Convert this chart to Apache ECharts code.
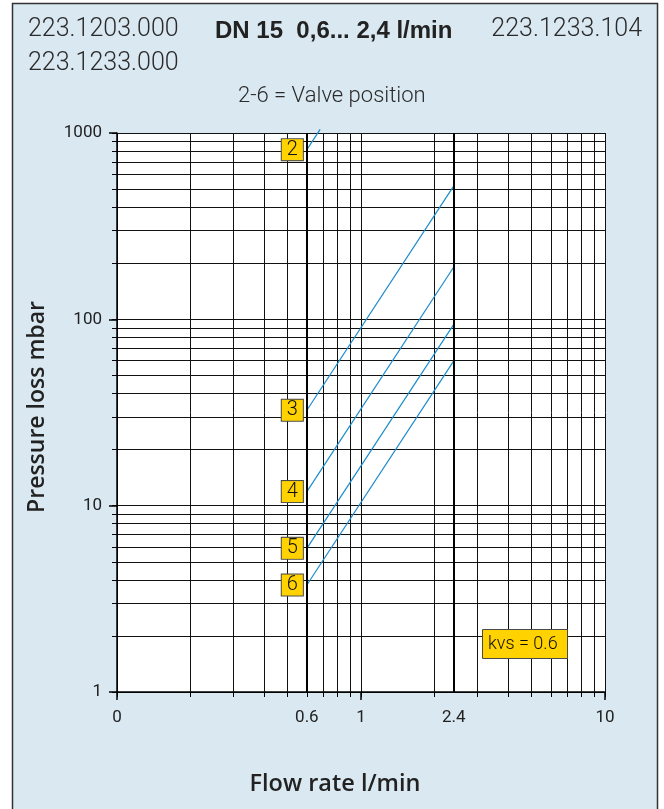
<!DOCTYPE html>
<html><head><meta charset="utf-8">
<script src="https://cdn.jsdelivr.net/npm/echarts@6/dist/echarts.min.js"></script>
<style>html,body{margin:0;padding:0;background:#fff;}#c{width:664px;height:809px;}</style>
</head><body><div id="c"></div>
<script>
// ---- data ----
const valvePositions = ['2', '3', '4', '5', '6'];
const flowStart = [0.6, 0.6, 0.6, 0.6, 0.6];
const flowEnd = [0.68, 2.4, 2.4, 2.4, 2.4];
const lossStart = [814, 32.5, 11.9, 5.9, 3.75];
const lossEnd = [1045, 520, 191, 94, 59.8];
const xTickLabels = [0.1, 0.6, 1, 2.4, 10];
const xGridValues = [0.1, 0.2, 0.3, 0.4, 0.5, 0.6, 0.7, 0.8, 0.9, 1, 2, 3, 4, 5, 6, 7, 8, 9, 10];
const xMajorTicks = [0.1, 1, 10];
const yTickLabels = [1, 10, 100, 1000];
const yGridValues = [1, 2, 3, 4, 5, 6, 7, 8, 9, 10, 20, 30, 40, 50, 60, 70, 80, 90, 100, 200, 300, 400, 500, 600, 700, 800, 900, 1000];
const boldFlowLines = [0.6, 2.4];
const kvsText = 'kvs = 0.6';

const chart = echarts.init(document.getElementById('c'), null, {renderer: 'canvas'});
const LIGHT = 'Roboto';
const gridColor = '#111';
const lineBlue = '#1b8ccc';
const yellow = '#ffd200';

const series = valvePositions.map((v, i) => ({
  type: 'line',
  name: v,
  xAxisIndex: 0, yAxisIndex: 0,
  clip: false,
  symbol: 'circle', symbolSize: 0.01, showSymbol: true,
  itemStyle: {color: lineBlue},
  lineStyle: {color: lineBlue, width: 1.2},
  silent: true,
  data: [
    {value: [flowStart[i], lossStart[i]], label: {
      show: true, position: 'left', distance: 4, formatter: v,
      fontFamily: LIGHT, fontWeight: 300, fontSize: 20, color: '#111',
      backgroundColor: yellow, borderColor: '#4a4a4a', borderWidth: 1,
      padding: [2, 5, 2, 5], lineHeight: 17
    }},
    {value: [flowEnd[i], lossEnd[i]], label: {show: false}}
  ]
}));
series.push({
  type: 'line', xAxisIndex: 0, yAxisIndex: 0, data: [], silent: true,
  markLine: {
    silent: true, symbol: 'none', label: {show: false},
    lineStyle: {color: '#000', width: 2, type: 'solid'},
    data: boldFlowLines.map(x => ({xAxis: x}))
  }
});

const logAxisCommon = {type: 'log', logBase: 10};

chart.setOption({
  animation: false,
  backgroundColor: 'transparent',
  grid: {left: 117, top: 133, width: 488, height: 559, show: true, backgroundColor: '#fff', borderWidth: 0, containLabel: false},
  xAxis: [{
    ...logAxisCommon, min: 0.1, max: 10, position: 'bottom',
    name: 'Flow rate l/min', nameLocation: 'middle', nameGap: 80,
    nameTextStyle: {fontFamily: 'Open Sans', fontWeight: 600, fontSize: 23.5, color: '#222', padding: [0, 52, 0, 0]},
    axisLine: {show: true, lineStyle: {color: '#000', width: 1.5}},
    axisTick: {show: true, customValues: xGridValues, length: 5, lineStyle: {color: '#000', width: 1}},
    axisLabel: {show: true, customValues: xTickLabels, margin: 17, fontFamily: LIGHT, fontSize: 17, color: '#222',
      formatter: val => Math.abs(val - 0.1) < 1e-9 ? '0' : String(val)},
    splitLine: {show: true, lineStyle: {color: gridColor, width: 1}},
    minorTick: {show: false}, minorSplitLine: {show: false}
  }, {
    ...logAxisCommon, min: 0.1, max: 10, position: 'bottom',
    axisLine: {show: false},
    axisTick: {show: true, customValues: xMajorTicks, length: 8, lineStyle: {color: '#000', width: 1.5}},
    axisLabel: {show: false}, splitLine: {show: false}
  }],
  yAxis: [{
    ...logAxisCommon, min: 1, max: 1000, position: 'left',
    name: 'Pressure loss mbar', nameLocation: 'middle', nameGap: 68,
    nameTextStyle: {fontFamily: 'Open Sans', fontWeight: 600, fontSize: 23, color: '#222', padding: [0, 0, 0, 11]},
    axisLine: {show: true, lineStyle: {color: '#000', width: 1.5}},
    axisTick: {show: true, customValues: yGridValues, length: 5, lineStyle: {color: '#000', width: 1}},
    axisLabel: {show: true, customValues: yTickLabels, margin: 15, fontFamily: LIGHT, fontSize: 17, color: '#222',
      formatter: val => String(Math.round(val))},
    splitLine: {show: true, lineStyle: {color: gridColor, width: 1}}
  }, {
    ...logAxisCommon, min: 1, max: 1000, position: 'left',
    axisLine: {show: false},
    axisTick: {show: true, customValues: yTickLabels, length: 8, lineStyle: {color: '#000', width: 1.5}},
    axisLabel: {show: false}, splitLine: {show: false}
  }],
  graphic: [
    {type: 'rect', z: -10, silent: true, shape: {x: 12.5, y: 3.5, width: 645, height: 830},
      style: {fill: '#d9e8f1', stroke: '#333', lineWidth: 1.5}},
    {type: 'text', left: 28, top: 17, silent: true,
      style: {text: '223.1203.000', font: '300 25px Roboto', fill: '#2a2a2a'}},
    {type: 'text', left: 28, top: 51, silent: true,
      style: {text: '223.1233.000', font: '300 25px Roboto', fill: '#2a2a2a'}},
    {type: 'text', left: 215, top: 19, silent: true,
      style: {text: 'DN 15  0,6... 2,4 l/min', font: 'bold 24px "Liberation Sans"', fill: '#222'}},
    {type: 'text', right: 22, top: 17, silent: true,
      style: {text: '223.1233.104', font: '300 25px Roboto', fill: '#2a2a2a'}},
    {type: 'text', left: 238, top: 85, silent: true,
      style: {text: '2-6 = Valve position', font: '300 22px Roboto', fill: '#2a2a2a'}},
    {type: 'rect', silent: true, z: 100, shape: {x: 482.5, y: 629.5, width: 85, height: 29},
      style: {fill: yellow, stroke: '#4a4a4a', lineWidth: 1}},
    {type: 'text', silent: true, z: 101, left: 488, top: 635,
      style: {text: kvsText, font: '300 18px Roboto', fill: '#111'}}
  ],
  series: series
});
</script></body></html>
